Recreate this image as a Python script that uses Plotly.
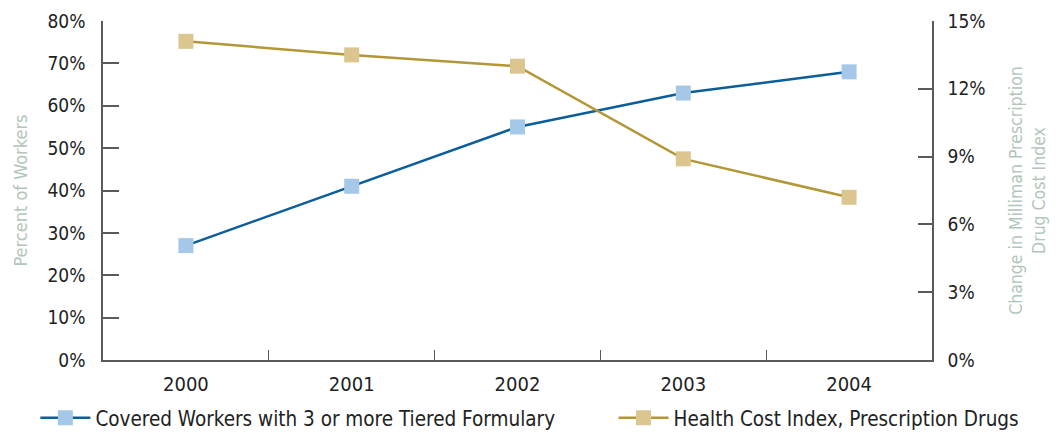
import plotly.graph_objects as go

years = ["2000", "2001", "2002", "2003", "2004"]
covered_workers_pct = [27, 41, 55, 63, 68]
health_cost_index_pct = [14.1, 13.5, 13.0, 8.9, 7.2]

FONT = "DejaVu Sans Condensed, DejaVu Sans, sans-serif"
AXIS_COL = "#5a5a5a"
TITLE_COL = "#b3c6ba"
TXT = "#222222"

def f(size, color=TXT):
    return dict(family=FONT, size=size, color=color)

fig = go.Figure()
fig.add_trace(go.Scatter(
    x=years, y=covered_workers_pct, name="Covered Workers with 3 or more Tiered Formulary",
    mode="lines+markers", line=dict(color="#0b5e9a", width=2.5),
    marker=dict(symbol="square", size=15, color="#a5c8e8", line=dict(width=0)),
    yaxis="y", legend="legend",
))
fig.add_trace(go.Scatter(
    x=years, y=health_cost_index_pct, name="Health Cost Index, Prescription Drugs",
    mode="lines+markers", line=dict(color="#b39636", width=2.5),
    marker=dict(symbol="square", size=15, color="#dbc690", line=dict(width=0)),
    yaxis="y2", legend="legend2",
))

leg_common = dict(orientation="h", xref="container", yref="container",
                  y=-0.03, xanchor="left", yanchor="bottom", font=f(20.5),
                  bgcolor="rgba(0,0,0,0)", itemwidth=50)

fig.update_layout(
    width=1056, height=438,
    margin=dict(l=103, r=124, t=21, b=78, autoexpand=False),
    plot_bgcolor="white", paper_bgcolor="white",
    font=f(19),
    showlegend=True,
    legend=dict(x=0.0335, **leg_common),
    legend2=dict(x=0.581, **leg_common),
    xaxis=dict(
        type="category", range=[-0.5, 4.5],
        showline=True, linecolor=AXIS_COL, linewidth=1.5,
        ticks="inside", tickson="boundaries", ticklen=10, tickcolor=AXIS_COL, tickwidth=1,
        showgrid=False, zeroline=False, ticklabelstandoff=5,
        tickfont=f(20),
    ),
    yaxis=dict(
        range=[0, 80], dtick=10, ticksuffix="%",
        showline=True, linecolor=AXIS_COL, linewidth=1.5,
        ticks="inside", ticklen=16, tickcolor=AXIS_COL, tickwidth=1.5,
        showgrid=False, zeroline=False, ticklabelstandoff=12,
        title=dict(text="Percent of Workers", font=f(18, TITLE_COL), standoff=15),
        tickfont=f(19),
    ),
    yaxis2=dict(
        range=[0, 15], dtick=3, ticksuffix="%", overlaying="y", side="right",
        showline=True, linecolor=AXIS_COL, linewidth=1.5,
        ticks="inside", ticklen=14, tickcolor=AXIS_COL, tickwidth=1.5,
        showgrid=False, zeroline=False, ticklabelstandoff=10,
        title=dict(text="Change in Milliman Prescription<br>Drug Cost Index",
                   font=f(17.5, TITLE_COL), standoff=25),
        tickfont=f(19),
    ),
)

fig.write_html("out.html", config={"displayModeBar": False},
               post_script="document.body.style.margin='0';")
